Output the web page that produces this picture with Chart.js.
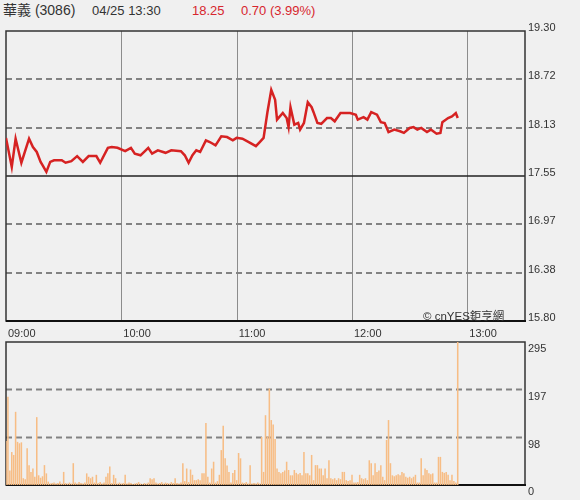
<!DOCTYPE html>
<html>
<head>
<meta charset="utf-8">
<script src="https://cdn.jsdelivr.net/npm/chart.js@4.4.1/dist/chart.umd.min.js"></script>
<style>
  html, body { margin: 0; padding: 0; background: #f0f0f0; }
  body { width: 580px; height: 500px; position: relative; overflow: hidden; font-family: "Liberation Sans", Arial, "Noto Sans CJK TC", sans-serif; color: #333; }
  .hd { position: absolute; top: 3px; font-size: 13px; line-height: 16px; white-space: nowrap; }
  .up { color: #d7262e; }
  canvas { position: absolute; left: 0; }
  #priceChart { top: 0; }
  #volChart { top: 340px; }
  .mark { position: absolute; left: 423px; top: 309px; font-size: 11.5px; line-height: 14px; color: #333; white-space: nowrap; }
</style>
</head>
<body>
<span class="hd" style="left:3px;font-size:14px;top:2px">華義 (3086)</span>
<span class="hd" style="left:92px">04/25 13:30</span>
<span class="hd up" style="left:192px">18.25</span>
<span class="hd up" style="left:241px">0.70 (3.99%)</span>
<canvas id="priceChart" width="580" height="340"></canvas>
<canvas id="volChart" width="580" height="160"></canvas>
<span class="mark">© cnYES鉅亨網</span>
<script>
// minutes after 09:00
const timeTicks = [0, 60, 120, 180, 240];
const timeLabels = ['09:00', '10:00', '11:00', '12:00', '13:00'];
const sessionLength = 270;

const priceTicks = [15.80, 16.38, 16.97, 17.55, 18.13, 18.72, 19.30];
const prevClose = 17.55;

const priceMinutes = [
  0, 3, 5, 8, 12, 14, 16, 18, 19, 21, 23, 25, 29, 31, 34, 37, 40, 43, 47, 49,
  53, 55, 58, 62, 65, 67, 70, 74, 76, 79, 83, 86, 91, 93, 95, 97, 99, 101, 104, 106,
  109, 112, 115, 118, 120, 123, 127, 130, 132, 134, 136, 138, 140, 141, 144, 146, 147, 148, 150, 152,
  153, 155, 157, 159, 160, 162, 164, 167, 169, 171, 174, 179, 182, 183, 186, 188, 190, 193, 195, 197,
  199, 202, 205, 207, 210, 212, 214, 216, 219, 221, 224, 226, 227, 230, 232, 234, 235,
];
const prices = [
  18.01, 17.66, 18.00, 17.71, 18.00, 17.90, 17.84, 17.72, 17.68, 17.60, 17.72, 17.74, 17.74, 17.71, 17.73, 17.79, 17.72, 17.79, 17.79, 17.71,
  17.89, 17.90, 17.89, 17.85, 17.89, 17.82, 17.80, 17.89, 17.82, 17.86, 17.83, 17.86, 17.85, 17.80, 17.71, 17.80, 17.86, 17.84, 17.98, 17.96,
  17.92, 18.03, 18.02, 17.98, 18.01, 18.00, 17.95, 17.91, 17.96, 18.01, 18.32, 18.59, 18.47, 18.23, 18.31, 18.25, 18.14, 18.38, 18.17, 18.19,
  18.11, 18.19, 18.44, 18.38, 18.32, 18.19, 18.18, 18.25, 18.25, 18.21, 18.31, 18.31, 18.29, 18.23, 18.26, 18.23, 18.32, 18.29, 18.20, 18.19,
  18.08, 18.11, 18.09, 18.07, 18.13, 18.14, 18.11, 18.13, 18.08, 18.11, 18.06, 18.07, 18.20, 18.25, 18.27, 18.31, 18.25,
];

const volTicks = [0, 98, 197, 295];
// one value per minute from 09:00
const volumes = [
  91, 182, 30, 68, 62, 151, 89, 86, 88, 14, 12, 76, 41, 27, 34, 17, 140, 20, 15, 18,
  41, 24, 7, 3, 4, 5, 3, 4, 7, 3, 27, 4, 3, 5, 3, 45, 5, 3, 6, 4,
  3, 5, 24, 17, 14, 17, 5, 21, 4, 6, 3, 5, 17, 24, 38, 4, 21, 14, 3, 5,
  3, 4, 21, 3, 5, 4, 2, 3, 4, 6, 3, 2, 4, 3, 5, 14, 12, 14, 5, 3,
  4, 6, 3, 5, 4, 3, 6, 4, 14, 4, 3, 5, 45, 8, 34, 6, 32, 21, 10, 10,
  12, 10, 24, 24, 128, 17, 5, 34, 48, 5, 8, 21, 72, 122, 55, 40, 27, 5, 25, 31,
  10, 66, 55, 5, 4, 6, 3, 41, 3, 4, 3, 5, 3, 99, 27, 144, 100, 199, 134, 125,
  95, 34, 27, 24, 27, 30, 48, 31, 20, 20, 31, 25, 22, 25, 20, 68, 24, 24, 20, 62,
  10, 41, 41, 34, 34, 20, 34, 14, 51, 14, 12, 14, 10, 14, 12, 27, 27, 10, 8, 10,
  21, 5, 5, 6, 21, 14, 12, 14, 10, 51, 45, 20, 45, 27, 30, 41, 17, 10, 93, 134,
  45, 20, 18, 20, 22, 20, 27, 24, 17, 15, 17, 14, 17, 21, 5, 5, 55, 20, 34, 31,
  24, 22, 24, 5, 5, 58, 58, 27, 25, 27, 21, 10, 21, 8, 5, 295,
];

const axisFont = { family: '"Liberation Sans", Arial, sans-serif', size: 11 };

const hLine = (ctx, area, y, color, width, dash) => {
  ctx.save();
  ctx.strokeStyle = color;
  ctx.lineWidth = width;
  ctx.setLineDash(dash);
  ctx.beginPath();
  ctx.moveTo(area.left, y);
  ctx.lineTo(area.right, y);
  ctx.stroke();
  ctx.restore();
};

const drawBox = (ctx, area) => {
  ctx.save();
  ctx.strokeStyle = '#333';
  ctx.lineWidth = 1.5;
  ctx.strokeRect(area.left, area.top, area.right - area.left, area.bottom - area.top);
  ctx.strokeStyle = '#111';
  ctx.lineWidth = 2;
  ctx.beginPath();
  ctx.moveTo(area.left, area.bottom);
  ctx.lineTo(area.right + 1, area.bottom);
  ctx.stroke();
  ctx.restore();
};

const priceGrid = {
  id: 'priceGrid',
  beforeDatasetsDraw(chart) {
    const { ctx, chartArea: area, scales } = chart;
    ctx.save();
    ctx.strokeStyle = '#8c8c8c';
    ctx.lineWidth = 1;
    for (const t of timeTicks.slice(1)) {
      const x = Math.round(scales.x.getPixelForValue(t)) + 0.5;
      ctx.beginPath();
      ctx.moveTo(x, area.top);
      ctx.lineTo(x, area.bottom);
      ctx.stroke();
    }
    ctx.restore();
    for (const v of priceTicks.slice(1, -1)) {
      const y = scales.y.getPixelForValue(v);
      if (v === prevClose) {
        hLine(ctx, area, y, '#222', 1.5, []);
      } else {
        hLine(ctx, area, y, '#828282', 2, [6, 4]);
      }
    }
    drawBox(ctx, area);
  },
};

const volGrid = {
  id: 'volGrid',
  beforeDatasetsDraw(chart) {
    const { ctx, chartArea: area, scales } = chart;
    for (const v of volTicks.slice(1, -1)) {
      hLine(ctx, area, scales.y.getPixelForValue(v), '#828282', 2, [6, 4]);
    }
    drawBox(ctx, area);
  },
};

new Chart(document.getElementById('priceChart'), {
  type: 'line',
  data: {
    datasets: [
      {
        data: priceMinutes.map((m, i) => ({ x: m, y: prices[i] })),
        borderColor: '#d62222',
        borderWidth: 2.5,
        pointRadius: 0,
        tension: 0,
      },
    ],
  },
  options: {
    responsive: false,
    animation: false,
    devicePixelRatio: 1,
    layout: { padding: { left: 6, top: 31, right: 0, bottom: 0 } },
    plugins: { legend: { display: false }, tooltip: { enabled: false } },
    scales: {
      x: {
        type: 'linear',
        min: 0,
        max: sessionLength,
        grid: { display: false, drawTicks: false },
        border: { display: false },
        afterBuildTicks: (scale) => {
          scale.ticks = timeTicks.map((v) => ({ value: v }));
        },
        afterFit: (scale) => {
          scale.height = 19;
          scale.paddingLeft = 0;
          scale.paddingRight = 0;
        },
        ticks: {
          align: 'start',
          labelOffset: 2,
          padding: 6,
          maxRotation: 0,
          color: '#333',
          font: axisFont,
          callback: (value, index) => timeLabels[index],
        },
      },
      y: {
        position: 'right',
        min: priceTicks[0],
        max: priceTicks[priceTicks.length - 1],
        grid: { display: false, drawTicks: false },
        border: { display: false },
        afterBuildTicks: (scale) => {
          scale.ticks = priceTicks.map((v) => ({ value: v }));
        },
        afterFit: (scale) => {
          scale.width = 55;
          scale.paddingTop = 0;
          scale.paddingBottom = 0;
        },
        ticks: {
          padding: 3,
          labelOffset: -3,
          color: '#333',
          font: axisFont,
          callback: (value) => value.toFixed(2),
        },
      },
    },
  },
  plugins: [priceGrid],
});

new Chart(document.getElementById('volChart'), {
  type: 'bar',
  data: {
    datasets: [
      {
        data: volumes.map((v, i) => ({ x: i, y: v })),
        backgroundColor: '#f7bd85',
        categoryPercentage: 1,
        barPercentage: 0.8,
      },
    ],
  },
  options: {
    responsive: false,
    animation: false,
    devicePixelRatio: 1,
    layout: { padding: { left: 6, top: 2, right: 0, bottom: 15 } },
    plugins: { legend: { display: false }, tooltip: { enabled: false } },
    scales: {
      x: {
        type: 'linear',
        min: 0,
        max: sessionLength,
        offset: false,
        display: false,
      },
      y: {
        position: 'right',
        min: volTicks[0],
        max: volTicks[volTicks.length - 1],
        grid: { display: false, drawTicks: false },
        border: { display: false },
        afterBuildTicks: (scale) => {
          scale.ticks = volTicks.map((v) => ({ value: v }));
        },
        afterFit: (scale) => {
          scale.width = 55;
          scale.paddingTop = 0;
          scale.paddingBottom = 0;
        },
        ticks: {
          padding: 3,
          labelOffset: 7,
          color: '#333',
          font: axisFont,
        },
      },
    },
  },
  plugins: [volGrid],
});
</script>
</body>
</html>
